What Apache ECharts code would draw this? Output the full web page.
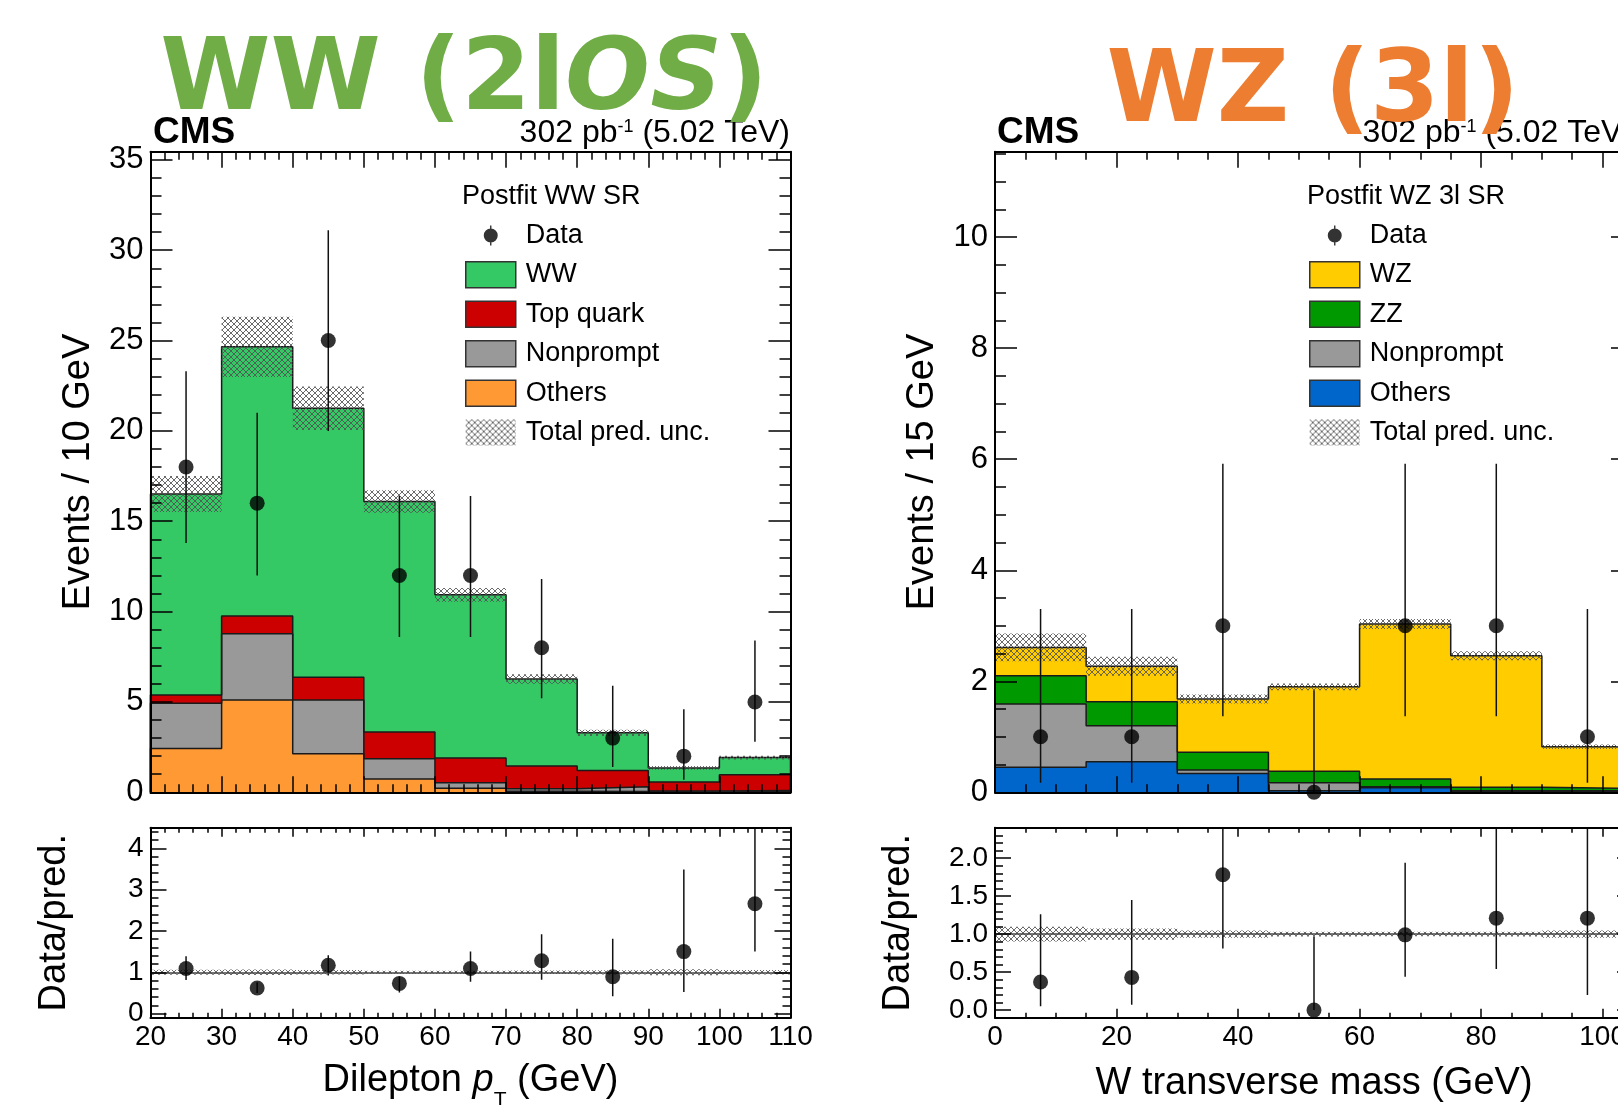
<!DOCTYPE html>
<html>
<head>
<meta charset="utf-8">
<script src="https://cdn.jsdelivr.net/npm/echarts@6.0.0/dist/echarts.min.js"></script>
<style>html,body{margin:0;padding:0;background:#fff}#c{width:1618px;height:1105px}</style>
</head>
<body>
<div id="c"></div>
<script>
// ================= DATA =================
// --- WW (2lOS) panel: dilepton pT, bins of 10 GeV ---
const wwEdges     = [20, 30, 40, 50, 60, 70, 80, 90, 100, 110];
const wwOthers    = [2.43, 5.11, 2.13, 0.74, 0.23, 0.06, 0.05, 0.02, 0.05];
const wwNonprompt = [2.50, 3.67, 2.98, 1.11, 0.30, 0.14, 0.26, 0.05, 0.05];
const wwTop       = [0.46, 0.98, 1.26, 1.49, 1.37, 1.26, 0.89, 0.50, 0.87];
const wwWW        = [11.12, 14.89, 14.88, 12.75, 9.03, 4.81, 2.09, 0.78, 0.95];
const wwUnc       = [1.00, 1.67, 1.20, 0.62, 0.38, 0.26, 0.17, 0.10, 0.10];
const wwData      = [18, 16, 25, 12, 12, 8, 3, 2, 5];
const wwDataLo    = [13.8, 12.0, 20.0, 8.6, 8.6, 5.2, 1.4, 0.7, 2.8];
const wwDataHi    = [23.3, 21.0, 31.1, 16.4, 16.4, 11.8, 5.9, 4.6, 8.4];
const wwRatio     = [1.09, 0.62, 1.17, 0.73, 1.09, 1.28, 0.89, 1.50, 2.66];
const wwRatioLo   = [0.81, 0.50, 0.92, 0.51, 0.77, 0.82, 0.42, 0.52, 1.50];
const wwRatioHi   = [1.39, 0.76, 1.41, 0.90, 1.50, 1.92, 1.81, 3.49, 4.60];
const wwXTicks    = [20, 30, 40, 50, 60, 70, 80, 90, 100, 110];
const wwYTicks    = [0, 5, 10, 15, 20, 25, 30, 35];
const wwRTicks    = [0, 1, 2, 3, 4];

// --- WZ (3l) panel: W transverse mass, bins of 15 GeV ---
const wzEdges     = [0, 15, 30, 45, 60, 75, 90, 105];
const wzOthers    = [0.45, 0.55, 0.34, 0.03, 0.08, 0.02, 0.02];
const wzNonprompt = [1.14, 0.65, 0.06, 0.14, 0.02, 0.01, 0.01];
const wzZZ        = [0.51, 0.43, 0.32, 0.21, 0.14, 0.06, 0.04];
const wzWZ        = [0.51, 0.64, 0.96, 1.52, 2.79, 2.37, 0.75];
const wzUnc       = [0.25, 0.17, 0.08, 0.06, 0.09, 0.08, 0.04];
const wzData      = [1, 1, 3, 0, 3, 3, 1];
const wzDataLo    = [0.17, 0.17, 1.37, 0.00, 1.37, 1.37, 0.17];
const wzDataHi    = [3.30, 3.30, 5.92, 1.84, 5.92, 5.92, 3.30];
const wzRatio     = [0.37, 0.43, 1.78, 0.00, 0.99, 1.21, 1.21];
const wzRatioLo   = [0.05, 0.07, 0.81, 0.00, 0.44, 0.54, 0.20];
const wzRatioHi   = [1.26, 1.45, 3.50, 0.97, 1.94, 2.41, 4.00];
const wzXTicks    = [0, 20, 40, 60, 80, 100];
const wzYTicks    = [0, 2, 4, 6, 8, 10];
const wzRTicks    = [0, 0.5, 1, 1.5, 2];

// ================= STYLE =================
const FONT = "'Liberation Sans', Arial, Helvetica, sans-serif";
const COL = {
  ww: '#35c966', top: '#cc0000', np: '#999999', othWW: '#ff9933',
  wz: '#ffcc00', zz: '#009900', othWZ: '#0066cc'
};
function makeHatch() {
  const c = document.createElement('canvas'); c.width = 6; c.height = 6;
  const g = c.getContext('2d');
  g.strokeStyle = 'rgba(80,80,80,0.85)'; g.lineWidth = 1;
  g.beginPath(); g.moveTo(0, 0); g.lineTo(6, 6); g.moveTo(6, 0); g.lineTo(0, 6); g.stroke();
  return c;
}
const HATCH = { image: makeHatch(), repeat: 'repeat' };
const DATA_ICON = 'path://M0,0h0.01v0.01h-0.01z M49.99,25.99h0.01v0.01h-0.01z M24.3,3h1.4v20h-1.4z M18,13a7,7 0 1 1 14,0a7,7 0 1 1 -14,0z';

// ================= HELPERS =================
function minorTicks(min, max, step, majors) {
  const out = [];
  const n = Math.round((max - min) / step);
  for (let k = 0; k <= n; k++) {
    const v = +(min + k * step).toFixed(6);
    if (v > max + 1e-9) break;
    if (!majors.some(m => Math.abs(m - v) < 1e-9)) out.push(v);
  }
  return out;
}
function centers(edges) { return edges.slice(0, -1).map((e, i) => (e + edges[i + 1]) / 2); }
function stepData(edges, vals) {
  const d = [[edges[0], 0]];
  vals.forEach((v, i) => d.push([edges[i], v]));
  d.push([edges[edges.length - 1], vals[vals.length - 1]]);
  d.push([edges[edges.length - 1], 0]);
  return d;
}

const xAxes = [], yAxes = [];
function addFrame(gi, xr, yr, cfg) {
  const base = (pos, r, ticks, len, line) => ({
    type: 'value', gridIndex: gi, position: pos, min: r.min, max: r.max, z: 8, silent: true,
    axisLine: { show: line, onZero: false, lineStyle: { color: '#000', width: 2 } },
    axisTick: { show: true, inside: true, length: len, customValues: ticks, lineStyle: { color: '#000', width: 1.5 } },
    axisLabel: { show: false }, splitLine: { show: false }, axisPointer: { show: false }
  });
  const xb = base('bottom', xr, xr.major, cfg.xMaj, true);
  if (cfg.xLabels) {
    xb.axisLabel = { show: true, customValues: xr.major, fontSize: 28, fontFamily: FONT, color: '#000', margin: 6 };
  }
  if (cfg.xName) {
    Object.assign(xb, { name: cfg.xName, nameLocation: 'middle', nameGap: cfg.xNameGap, nameMoveOverlap: false,
      nameTextStyle: Object.assign({ fontSize: 38, fontFamily: FONT, color: '#000' }, cfg.xNameStyle || {}) });
  }
  xAxes.push(xb, base('bottom', xr, xr.minor, cfg.xMin, false),
             base('top', xr, xr.major, cfg.xMaj, true), base('top', xr, xr.minor, cfg.xMin, false));
  const yl = base('left', yr, yr.major, cfg.yMaj, true);
  yl.axisLabel = { show: true, customValues: yr.major, fontSize: cfg.yLabelSize, fontFamily: FONT, color: '#000', margin: 7 };
  if (cfg.yFmt) yl.axisLabel.formatter = cfg.yFmt;
  Object.assign(yl, { name: cfg.yName, nameLocation: 'middle', nameGap: cfg.yNameGap, nameRotate: 90, nameMoveOverlap: false,
    nameTextStyle: { fontSize: 38, fontFamily: FONT, color: '#000' } });
  yAxes.push(yl, base('left', yr, yr.minor, cfg.yMin, false),
             base('right', yr, yr.major, cfg.yMaj, true), base('right', yr, yr.minor, cfg.yMin, false));
}

function bandSeries(gi, edges, lo, hi, name) {
  return {
    type: 'custom', name: name, xAxisIndex: gi * 4, yAxisIndex: gi * 4, clip: true, z: 3, silent: true,
    data: edges.slice(0, -1).map((e, i) => [e, edges[i + 1], lo[i], hi[i]]),
    encode: { x: [0, 1], y: [2, 3] },
    itemStyle: { color: HATCH },
    renderItem: (p, api) => {
      const a = api.coord([api.value(0), api.value(3)]);
      const b = api.coord([api.value(1), api.value(2)]);
      return { type: 'rect', shape: { x: a[0], y: a[1], width: b[0] - a[0], height: b[1] - a[1] }, style: { fill: HATCH } };
    }
  };
}
function errSeries(gi, xs, lo, hi) {
  return {
    type: 'custom', xAxisIndex: gi * 4, yAxisIndex: gi * 4, clip: true, z: 4, silent: true,
    data: xs.map((x, i) => [x, lo[i], hi[i]]),
    encode: { x: 0, y: [1, 2] },
    renderItem: (p, api) => {
      const a = api.coord([api.value(0), api.value(1)]);
      const b = api.coord([api.value(0), api.value(2)]);
      return { type: 'line', shape: { x1: a[0], y1: a[1], x2: b[0], y2: b[1] }, style: { stroke: '#111', lineWidth: 1.5 } };
    }
  };
}
function pointSeries(gi, xs, ys, name, extra) {
  return Object.assign({
    type: 'scatter', name: name, xAxisIndex: gi * 4, yAxisIndex: gi * 4, clip: false, z: 5, silent: true,
    symbol: 'circle', symbolSize: 15, itemStyle: { color: '#000' },
    data: xs.map((x, i) => [x, ys[i]])
  }, extra || {});
}
function mainSeries(gi, edges, comps, unc, data, lo, hi) {
  const n = data.length;
  const cums = []; let run = new Array(n).fill(0);
  comps.forEach(c => { run = run.map((v, i) => v + c.values[i]); cums.push(run.slice()); });
  const out = [];
  for (let k = comps.length - 1; k >= 0; k--) {
    out.push({
      type: 'line', name: comps[k].name, xAxisIndex: gi * 4, yAxisIndex: gi * 4, step: 'end',
      data: stepData(edges, cums[k]), symbol: 'none', showSymbol: false, silent: true, z: 2,
      lineStyle: { color: '#1a1a1a', width: 1.5 }, areaStyle: { color: comps[k].color, opacity: 1 },
      itemStyle: { color: comps[k].color }, emphasis: { disabled: true }
    });
  }
  const tot = cums[cums.length - 1];
  out.push(bandSeries(gi, edges, tot.map((t, i) => t - unc[i]), tot.map((t, i) => t + unc[i]), 'Total pred. unc.'));
  const xs = centers(edges);
  out.push(errSeries(gi, xs, lo, hi));
  out.push(pointSeries(gi, xs, data, 'Data'));
  return { series: out, tot: tot };
}
function ratioSeries(gi, edges, tot, unc, r, lo, hi) {
  const xs = centers(edges);
  const rel = unc.map((u, i) => u / tot[i]);
  return [
    bandSeries(gi, edges, rel.map(v => 1 - v), rel.map(v => 1 + v), ''),
    errSeries(gi, xs, lo, hi),
    pointSeries(gi, xs, r, '', {
      markLine: { silent: true, symbol: 'none', label: { show: false }, animation: false,
        lineStyle: { color: '#444', width: 1.5, type: 'solid' }, data: [{ yAxis: 1 }] }
    })
  ];
}

// ================= FRAMES =================
const WW_YMAX = 35.45, WZ_YMAX = 11.54;
addFrame(0, { min: 20, max: 110, major: wwXTicks, minor: minorTicks(20, 110, 2, wwXTicks) },
            { min: 0, max: WW_YMAX, major: wwYTicks, minor: minorTicks(0, WW_YMAX, 1, wwYTicks) },
  { xMaj: 16, xMin: 8, yMaj: 22, yMin: 11, yLabelSize: 31, yName: 'Events / 10 GeV', yNameGap: 53 });
addFrame(1, { min: 20, max: 110, major: wwXTicks, minor: minorTicks(20, 110, 2, wwXTicks) },
            { min: -0.1, max: 4.5, major: wwRTicks, minor: minorTicks(0, 4.5, 0.2, wwRTicks) },
  { xMaj: 9, xMin: 5, yMaj: 16, yMin: 8, yLabelSize: 28, yName: 'Data/pred.', yNameGap: 77, xLabels: true,
    xName: '{a|Dilepton }{i|p}{s|T}{a| (GeV)}', xNameGap: 32,
    xNameStyle: { rich: { a: { fontSize: 38, fontFamily: FONT, color: '#000' },
                          i: { fontSize: 38, fontFamily: FONT, color: '#000', fontStyle: 'italic' },
                          s: { fontSize: 21, fontFamily: FONT, color: '#000', padding: [40, 0, 0, 0] } } } });
addFrame(2, { min: 0, max: 105, major: wzXTicks, minor: minorTicks(0, 105, 5, wzXTicks) },
            { min: 0, max: WZ_YMAX, major: wzYTicks, minor: minorTicks(0, WZ_YMAX, 0.5, wzYTicks) },
  { xMaj: 16, xMin: 8, yMaj: 22, yMin: 11, yLabelSize: 31, yName: 'Events / 15 GeV', yNameGap: 53 });
addFrame(3, { min: 0, max: 105, major: wzXTicks, minor: minorTicks(0, 105, 5, wzXTicks) },
            { min: -0.1, max: 2.4, major: wzRTicks, minor: minorTicks(0, 2.4, 0.1, wzRTicks) },
  { xMaj: 9, xMin: 5, yMaj: 16, yMin: 8, yLabelSize: 28, yName: 'Data/pred.', yNameGap: 77, xLabels: true,
    yFmt: v => Number(v).toFixed(1),
    xName: 'W transverse mass (GeV)', xNameGap: 47 });

// ================= SERIES =================
const wwMain = mainSeries(0, wwEdges, [
  { name: 'Others', values: wwOthers, color: COL.othWW },
  { name: 'Nonprompt', values: wwNonprompt, color: COL.np },
  { name: 'Top quark', values: wwTop, color: COL.top },
  { name: 'WW', values: wwWW, color: COL.ww }
], wwUnc, wwData, wwDataLo, wwDataHi);
const wzMain = mainSeries(2, wzEdges, [
  { name: 'Others', values: wzOthers, color: COL.othWZ },
  { name: 'Nonprompt', values: wzNonprompt, color: COL.np },
  { name: 'ZZ', values: wzZZ, color: COL.zz },
  { name: 'WZ', values: wzWZ, color: COL.wz }
], wzUnc, wzData, wzDataLo, wzDataHi);
const series = [].concat(
  wwMain.series,
  ratioSeries(1, wwEdges, wwMain.tot, wwUnc, wwRatio, wwRatioLo, wwRatioHi),
  wzMain.series,
  ratioSeries(3, wzEdges, wzMain.tot, wzUnc, wzRatio, wzRatioLo, wzRatioHi)
);

// ================= LEGENDS =================
const box = c => ({ icon: 'rect', itemStyle: { color: c, borderColor: '#333', borderWidth: 1.5 } });
const legendBase = {
  orient: 'vertical', padding: 0, itemWidth: 50, itemHeight: 26, itemGap: 12, selectedMode: false,
  textStyle: { fontSize: 27, fontFamily: FONT, color: '#000', lineHeight: 26, padding: [0, 0, 0, 5] }
};
const legends = [
  Object.assign({}, legendBase, { left: 465, top: 222, data: [
    { name: 'Data', icon: DATA_ICON, itemStyle: { color: '#000', borderWidth: 0 } },
    Object.assign({ name: 'WW' }, box(COL.ww)),
    Object.assign({ name: 'Top quark' }, box(COL.top)),
    Object.assign({ name: 'Nonprompt' }, box(COL.np)),
    Object.assign({ name: 'Others' }, box(COL.othWW)),
    { name: 'Total pred. unc.', icon: 'rect', itemStyle: { color: HATCH, borderWidth: 0 } }
  ] }),
  Object.assign({}, legendBase, { left: 1309, top: 222, data: [
    { name: 'Data', icon: DATA_ICON, itemStyle: { color: '#000', borderWidth: 0 } },
    Object.assign({ name: 'WZ' }, box(COL.wz)),
    Object.assign({ name: 'ZZ' }, box(COL.zz)),
    Object.assign({ name: 'Nonprompt' }, box(COL.np)),
    Object.assign({ name: 'Others' }, box(COL.othWZ)),
    { name: 'Total pred. unc.', icon: 'rect', itemStyle: { color: HATCH, borderWidth: 0 } }
  ] })
];

// ================= TEXT =================
const lumiRich = { n: { fontSize: 32, fontFamily: FONT, fill: '#000' },
                   s: { fontSize: 18, fontFamily: FONT, fill: '#000', padding: [0, 0, 12, 0] } };
const graphics = [
  { type: 'text', x: 153, y: 133, z: 50, style: { text: 'CMS', font: "bold 37px 'Liberation Sans', Arial", fill: '#000', verticalAlign: 'middle' } },
  { type: 'text', x: 997, y: 133, z: 50, style: { text: 'CMS', font: "bold 37px 'Liberation Sans', Arial", fill: '#000', verticalAlign: 'middle' } },
  { type: 'text', x: 790, y: 133, z: 50, style: { text: '{n|302 pb}{s|-1}{n| (5.02 TeV)}', rich: lumiRich, align: 'right', verticalAlign: 'middle' } },
  { type: 'text', x: 1633, y: 133, z: 50, style: { text: '{n|302 pb}{s|-1}{n| (5.02 TeV)}', rich: lumiRich, align: 'right', verticalAlign: 'middle' } },
  { type: 'text', x: 462, y: 197, z: 50, style: { text: 'Postfit WW SR', font: "27px 'Liberation Sans', Arial", fill: '#000', verticalAlign: 'middle' } },
  { type: 'text', x: 1307, y: 197, z: 50, style: { text: 'Postfit WZ 3l SR', font: "27px 'Liberation Sans', Arial", fill: '#000', verticalAlign: 'middle' } },
  { type: 'text', x: 464, y: 83, z: 100, style: { text: '{a|WW (2l}{b|OS}{a|)}', align: 'center', verticalAlign: 'middle',
      rich: { a: { fontSize: 100, fontWeight: 'bold', fontFamily: 'DejaVu Sans', fill: '#70ad47' },
              b: { fontSize: 100, fontWeight: 'bold', fontStyle: 'italic', fontFamily: 'DejaVu Sans', fill: '#70ad47' } } } },
  { type: 'text', x: 1313, y: 95, z: 100, style: { text: 'WZ (3l)', align: 'center', verticalAlign: 'middle',
      font: "bold 100px 'DejaVu Sans'", fill: '#ed7d31' } }
];

// ================= CHART =================
const chart = echarts.init(document.getElementById('c'), null, { renderer: 'canvas' });
chart.setOption({
  animation: false,
  backgroundColor: '#fff',
  textStyle: { fontFamily: FONT },
  grid: [
    { left: 150.5, top: 151.7, width: 640, height: 640.6, containLabel: false, outerBoundsMode: 'none' },
    { left: 150.5, top: 827.7, width: 640, height: 190, containLabel: false, outerBoundsMode: 'none' },
    { left: 995, top: 151.7, width: 638, height: 640.6, containLabel: false, outerBoundsMode: 'none' },
    { left: 995, top: 827.7, width: 638, height: 190, containLabel: false, outerBoundsMode: 'none' }
  ],
  xAxis: xAxes,
  yAxis: yAxes,
  legend: legends,
  graphic: { elements: graphics },
  series: series
});
</script>
</body>
</html>
